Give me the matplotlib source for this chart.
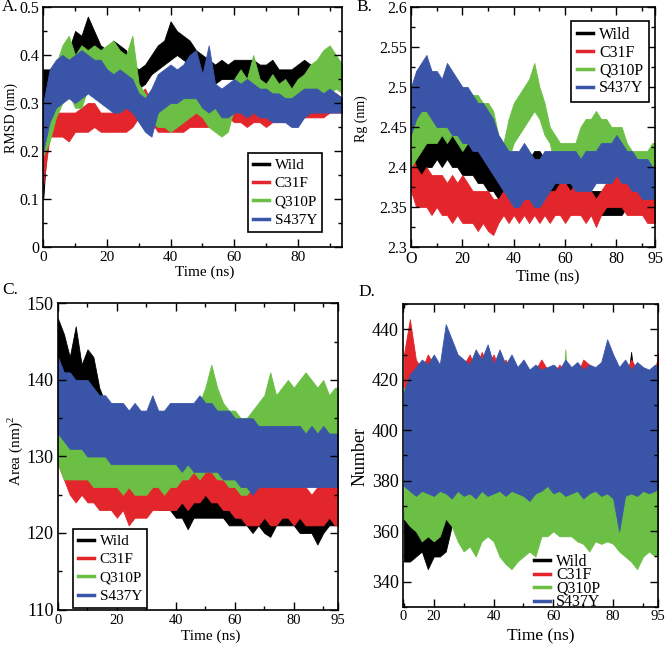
import matplotlib
matplotlib.use('Agg')
import matplotlib.pyplot as plt
from matplotlib.ticker import MultipleLocator
from matplotlib.lines import Line2D

plt.rcParams['font.family'] = ['Liberation Serif', 'DejaVu Serif']
plt.rcParams['mathtext.fontset'] = 'custom'
plt.rcParams['mathtext.rm'] = 'Liberation Serif'

labels = ['Wild', 'C31F', 'Q310P', 'S437Y']
colors = ['#000000', '#e3262b', '#6cbf45', '#3a55a8']

# each trajectory is given as its lower / upper envelope read every 2 ns
time_abc = list(range(0, 97, 2))
time_d = list(range(10, 97, 2))

# ---------------- A: RMSD (nm) ----------------
rmsd_wild_lo = [0.10, 0.30, 0.32, 0.33, 0.34, 0.35, 0.36, 0.38, 0.38, 0.36, 0.36, 0.37, 0.36, 0.36, 0.34, 0.33,
                0.34, 0.36, 0.37, 0.38, 0.39, 0.40, 0.39, 0.38, 0.37, 0.36, 0.35, 0.34, 0.35, 0.35, 0.35, 0.35,
                0.34, 0.35, 0.35, 0.34, 0.35, 0.34, 0.34, 0.33, 0.33, 0.35, 0.35, 0.34, 0.35, 0.34, 0.35, 0.35, 0.35]
rmsd_wild_hi = [0.37, 0.37, 0.38, 0.39, 0.41, 0.45, 0.44, 0.48, 0.45, 0.42, 0.41, 0.43, 0.42, 0.41, 0.38, 0.37,
                0.38, 0.40, 0.42, 0.43, 0.47, 0.45, 0.44, 0.43, 0.41, 0.40, 0.39, 0.38, 0.39, 0.38, 0.39, 0.39,
                0.39, 0.39, 0.38, 0.38, 0.39, 0.37, 0.37, 0.37, 0.38, 0.39, 0.38, 0.38, 0.37, 0.38, 0.38, 0.37, 0.37]
rmsd_c31f_lo = [0.13, 0.23, 0.23, 0.23, 0.22, 0.24, 0.24, 0.24, 0.25, 0.24, 0.24, 0.24, 0.24, 0.24, 0.25, 0.27,
                0.28, 0.26, 0.24, 0.24, 0.24, 0.24, 0.24, 0.25, 0.25, 0.25, 0.25, 0.26, 0.27, 0.27, 0.26, 0.26,
                0.25, 0.26, 0.26, 0.25, 0.26, 0.26, 0.26, 0.26, 0.27, 0.27, 0.27, 0.27, 0.27, 0.28, 0.28, 0.28, 0.28]
rmsd_c31f_hi = [0.20, 0.28, 0.28, 0.28, 0.28, 0.28, 0.29, 0.30, 0.30, 0.28, 0.28, 0.28, 0.28, 0.31, 0.29, 0.32,
                0.33, 0.30, 0.28, 0.27, 0.28, 0.27, 0.28, 0.27, 0.28, 0.28, 0.27, 0.30, 0.30, 0.29, 0.29, 0.28,
                0.28, 0.28, 0.28, 0.28, 0.29, 0.28, 0.29, 0.29, 0.32, 0.30, 0.30, 0.30, 0.31, 0.31, 0.32, 0.31, 0.31]
rmsd_q310p_lo = [0.19, 0.22, 0.27, 0.30, 0.32, 0.29, 0.29, 0.33, 0.33, 0.33, 0.32, 0.33, 0.33, 0.32, 0.34, 0.29,
                 0.27, 0.26, 0.25, 0.25, 0.24, 0.25, 0.26, 0.27, 0.28, 0.27, 0.25, 0.24, 0.23, 0.24, 0.29, 0.29,
                 0.28, 0.29, 0.30, 0.28, 0.29, 0.28, 0.28, 0.27, 0.28, 0.29, 0.29, 0.30, 0.31, 0.32, 0.33, 0.32, 0.32]
rmsd_q310p_hi = [0.25, 0.34, 0.38, 0.42, 0.44, 0.40, 0.42, 0.41, 0.42, 0.41, 0.42, 0.43, 0.41, 0.40, 0.44, 0.34,
                 0.32, 0.30, 0.30, 0.29, 0.30, 0.30, 0.31, 0.33, 0.35, 0.30, 0.29, 0.29, 0.28, 0.33, 0.35, 0.37,
                 0.35, 0.40, 0.35, 0.34, 0.36, 0.34, 0.35, 0.33, 0.35, 0.36, 0.38, 0.39, 0.41, 0.42, 0.40, 0.38, 0.38]
rmsd_s437y_lo = [0.20, 0.26, 0.29, 0.30, 0.31, 0.30, 0.31, 0.32, 0.31, 0.30, 0.29, 0.28, 0.28, 0.29, 0.28, 0.26,
                 0.24, 0.23, 0.28, 0.29, 0.30, 0.30, 0.31, 0.31, 0.31, 0.29, 0.28, 0.29, 0.27, 0.27, 0.28, 0.28,
                 0.27, 0.28, 0.27, 0.27, 0.26, 0.26, 0.26, 0.25, 0.25, 0.27, 0.28, 0.28, 0.28, 0.28, 0.28, 0.28, 0.28]
rmsd_s437y_hi = [0.30, 0.37, 0.39, 0.40, 0.39, 0.40, 0.41, 0.40, 0.39, 0.39, 0.37, 0.36, 0.37, 0.36, 0.35, 0.32,
                 0.31, 0.33, 0.36, 0.37, 0.38, 0.37, 0.38, 0.40, 0.41, 0.36, 0.42, 0.34, 0.33, 0.34, 0.35, 0.34,
                 0.35, 0.34, 0.33, 0.33, 0.32, 0.32, 0.31, 0.31, 0.32, 0.33, 0.33, 0.33, 0.32, 0.33, 0.32, 0.31, 0.31]

# ---------------- B: Rg (nm) ----------------
rg_wild_lo = [2.40, 2.39, 2.38, 2.40, 2.40, 2.41, 2.40, 2.41, 2.40, 2.40, 2.39, 2.39, 2.39, 2.38, 2.38, 2.37,
              2.37, 2.36, 2.37, 2.37, 2.37, 2.37, 2.37, 2.37, 2.38, 2.38, 2.37, 2.36, 2.35, 2.35, 2.35, 2.34,
              2.35, 2.34, 2.34, 2.34, 2.34, 2.34, 2.34, 2.34, 2.34, 2.34, 2.35, 2.35, 2.35, 2.34, 2.35, 2.34, 2.34]
rg_wild_hi = [2.42, 2.42, 2.43, 2.46, 2.45, 2.45, 2.44, 2.45, 2.44, 2.44, 2.44, 2.43, 2.43, 2.42, 2.42, 2.41,
              2.40, 2.39, 2.40, 2.40, 2.40, 2.40, 2.40, 2.41, 2.42, 2.42, 2.41, 2.39, 2.38, 2.38, 2.38, 2.38,
              2.38, 2.37, 2.37, 2.37, 2.37, 2.37, 2.36, 2.36, 2.37, 2.37, 2.37, 2.37, 2.37, 2.37, 2.36, 2.36, 2.36]
rg_c31f_lo = [2.37, 2.35, 2.35, 2.35, 2.34, 2.35, 2.34, 2.34, 2.33, 2.34, 2.33, 2.33, 2.33, 2.32, 2.33, 2.32,
              2.315, 2.33, 2.34, 2.33, 2.34, 2.33, 2.34, 2.33, 2.34, 2.33, 2.34, 2.33, 2.34, 2.34, 2.33, 2.34,
              2.34, 2.34, 2.33, 2.34, 2.325, 2.34, 2.35, 2.35, 2.35, 2.35, 2.34, 2.34, 2.34, 2.34, 2.33, 2.33, 2.33]
rg_c31f_hi = [2.42, 2.40, 2.39, 2.40, 2.39, 2.39, 2.39, 2.38, 2.39, 2.38, 2.39, 2.38, 2.37, 2.37, 2.37, 2.37,
              2.36, 2.36, 2.37, 2.37, 2.37, 2.36, 2.37, 2.37, 2.36, 2.37, 2.36, 2.37, 2.37, 2.38, 2.38, 2.37,
              2.38, 2.37, 2.37, 2.37, 2.36, 2.37, 2.38, 2.38, 2.39, 2.38, 2.39, 2.37, 2.37, 2.36, 2.36, 2.36, 2.36]
rg_q310p_lo = [2.40, 2.41, 2.42, 2.43, 2.43, 2.43, 2.44, 2.43, 2.44, 2.43, 2.42, 2.43, 2.43, 2.44, 2.43, 2.42,
               2.42, 2.41, 2.40, 2.41, 2.43, 2.44, 2.45, 2.46, 2.47, 2.46, 2.44, 2.43, 2.40, 2.40, 2.39, 2.39,
               2.40, 2.40, 2.41, 2.42, 2.42, 2.42, 2.41, 2.41, 2.41, 2.40, 2.40, 2.39, 2.39, 2.38, 2.39, 2.38, 2.38]
rg_q310p_hi = [2.46, 2.47, 2.48, 2.48, 2.48, 2.48, 2.48, 2.50, 2.49, 2.48, 2.48, 2.48, 2.49, 2.49, 2.48, 2.48,
               2.47, 2.44, 2.43, 2.46, 2.48, 2.49, 2.50, 2.51, 2.53, 2.50, 2.48, 2.45, 2.44, 2.43, 2.43, 2.43,
               2.43, 2.45, 2.46, 2.46, 2.47, 2.46, 2.46, 2.45, 2.45, 2.45, 2.43, 2.42, 2.42, 2.42, 2.42, 2.43, 2.43]
rg_s437y_lo = [2.44, 2.46, 2.47, 2.47, 2.46, 2.45, 2.45, 2.45, 2.44, 2.44, 2.43, 2.43, 2.42, 2.42, 2.41, 2.40,
               2.39, 2.38, 2.37, 2.36, 2.35, 2.35, 2.36, 2.36, 2.35, 2.35, 2.36, 2.37, 2.38, 2.38, 2.38, 2.38,
               2.37, 2.37, 2.37, 2.37, 2.38, 2.38, 2.38, 2.38, 2.39, 2.38, 2.38, 2.37, 2.37, 2.36, 2.36, 2.36, 2.36]
rg_s437y_hi = [2.50, 2.52, 2.53, 2.54, 2.52, 2.52, 2.51, 2.53, 2.52, 2.51, 2.50, 2.50, 2.49, 2.48, 2.48, 2.47,
               2.46, 2.44, 2.43, 2.42, 2.42, 2.42, 2.43, 2.42, 2.41, 2.41, 2.42, 2.42, 2.42, 2.42, 2.42, 2.42,
               2.42, 2.41, 2.42, 2.42, 2.42, 2.43, 2.43, 2.43, 2.44, 2.43, 2.42, 2.42, 2.41, 2.41, 2.41, 2.40, 2.40]

# ---------------- C: Area (nm^2) ----------------
area_wild_lo = [141, 139, 137, 138, 138, 138, 137, 135, 132, 130, 128, 127, 126, 125, 125, 124,
                124, 123, 123, 123, 122, 122, 120.5, 122, 122, 122, 122, 122, 122, 121, 121, 121,
                121, 120, 121, 120, 119.5, 121, 121, 121, 121, 120, 120, 120, 118.5, 120, 121, 121, 121]
area_wild_hi = [148, 146, 143, 147, 142, 144, 143, 139, 137, 136, 134, 133, 132, 131, 130, 129,
                128, 127, 126, 126, 127, 126, 126, 126, 126, 127, 126, 126, 126, 125, 125, 125,
                124, 124, 124, 124, 124, 124, 125, 125, 126, 124, 124, 124, 123, 123, 124, 124, 124]
area_c31f_lo = [129, 127, 125, 124, 125, 124, 124, 123, 123, 123, 122, 123, 121, 122, 122, 122,
                123, 123, 123, 123, 123, 124, 123, 124, 124, 125, 124, 124, 123, 123, 122, 122,
                121, 121, 121, 122, 121, 121, 122, 122, 121, 122, 121, 121, 121, 121, 122, 121, 121]
area_c31f_hi = [133, 132, 131, 130, 129, 130, 129, 130, 129, 128, 128, 128, 127, 128, 127, 127,
                127, 127, 126, 127, 127, 127, 128, 128, 129, 131, 129, 128, 128, 127, 127, 127,
                127, 126, 127, 127, 126, 126, 126, 126, 126, 126, 126, 125, 126, 126, 126, 126, 126]
area_q310p_lo = [129, 127, 127, 127, 127, 127, 126, 126, 126, 126, 126, 125, 126, 125, 125, 125,
                 126, 126, 125, 126, 126, 127, 127, 128, 127, 128, 128, 127, 127, 126, 126, 125,
                 125, 126, 127, 127, 127, 128, 128, 128, 129, 129, 130, 129, 130, 129, 130, 130, 130]
area_q310p_hi = [135, 133, 132, 132, 133, 133, 132, 132, 131, 131, 132, 131, 131, 131, 130, 131,
                 131, 132, 131, 132, 133, 134, 135, 136, 137, 139, 142, 139, 137, 136, 136, 135,
                 135, 136, 137, 138, 141, 138, 139, 140, 139, 140, 141, 140, 139, 140, 138, 139, 139]
area_s437y_lo = [133, 132, 131, 131, 131, 130, 130, 130, 130, 129, 129, 129, 129, 129, 129, 129,
                 129, 129, 129, 129, 129, 128, 129, 128, 128, 128, 128, 128, 127, 127, 127, 126,
                 126, 125, 126, 126, 126, 126, 126, 126, 126, 126, 126, 126, 126, 126, 126, 126, 126]
area_s437y_hi = [143, 141, 141, 140, 140, 140, 139, 138, 138, 137, 137, 137, 136, 137, 136, 136,
                 138, 136, 136, 137, 137, 137, 137, 137, 138, 137, 137, 136, 136, 136, 135, 135,
                 135, 135, 134, 134, 134, 134, 134, 134, 134, 134, 133, 134, 133, 134, 133, 133, 133]

# ---------------- D: Number (t = 10..96) ----------------
num_wild_lo = [348, 348, 350, 352, 345, 350, 350, 352, 362, 365, 364, 366, 365, 367, 365, 366,
               364, 366, 365, 366, 365, 366, 364, 362, 366, 365, 366, 365, 366, 365, 366, 365,
               366, 365, 366, 365, 366, 365, 366, 365, 366, 366, 365, 365]
num_wild_hi = [368, 366, 370, 366, 368, 372, 370, 372, 405, 410, 410, 408, 411, 409, 412, 408,
               410, 411, 409, 410, 408, 410, 411, 409, 410, 417, 411, 409, 410, 412, 409, 410,
               411, 409, 410, 412, 409, 410, 431, 411, 410, 409, 410, 410]
num_c31f_lo = [413, 412, 400, 385, 382, 384, 383, 380, 384, 383, 382, 384, 382, 383, 382, 384,
               383, 382, 384, 383, 382, 384, 383, 382, 384, 383, 382, 384, 383, 382, 384, 383,
               382, 384, 383, 382, 384, 383, 382, 384, 383, 382, 384, 384]
num_c31f_hi = [430, 444, 428, 424, 430, 426, 423, 424, 432, 426, 426, 430, 424, 431, 426, 430,
               424, 428, 423, 424, 426, 422, 424, 428, 424, 422, 426, 423, 425, 422, 428, 426,
               424, 422, 426, 423, 424, 422, 428, 424, 423, 422, 424, 435]
num_q310p_lo = [365, 362, 360, 356, 358, 356, 358, 365, 362, 356, 352, 354, 350, 356, 358, 356,
                350, 347, 345, 348, 350, 352, 350, 358, 358, 360, 358, 358, 358, 356, 355, 352,
                356, 355, 356, 355, 352, 350, 348, 345, 350, 352, 350, 352]
num_q310p_hi = [417, 380, 382, 385, 384, 386, 388, 388, 388, 385, 384, 382, 383, 384, 385, 384,
                383, 382, 380, 382, 380, 382, 383, 380, 382, 380, 384, 432, 386, 384, 385, 383,
                382, 384, 385, 384, 380, 378, 376, 375, 376, 378, 377, 378]
num_s437y_lo = [378, 376, 374, 376, 375, 374, 376, 375, 373, 376, 374, 375, 373, 376, 374, 375,
                376, 374, 376, 375, 374, 372, 375, 376, 378, 375, 376, 374, 375, 376, 373, 375,
                376, 374, 375, 373, 360, 374, 375, 374, 376, 375, 376, 378]
num_s437y_hi = [415, 422, 425, 428, 426, 430, 426, 442, 436, 430, 428, 426, 432, 428, 434, 426,
                432, 426, 430, 425, 428, 424, 426, 424, 425, 426, 424, 428, 425, 427, 424, 426,
                425, 427, 436, 430, 425, 428, 424, 427, 425, 424, 426, 424]

W, H = 666, 646
fig = plt.figure(figsize=(W / 100, H / 100), dpi=100)

axA = fig.add_axes([0.065, 0.6177, 0.449, 0.3715])
axB = fig.add_axes([0.6171, 0.6177, 0.3664, 0.3715])
axC = fig.add_axes([0.0871, 0.0565, 0.4204, 0.4737])
axD = fig.add_axes([0.6051, 0.0604, 0.3829, 0.469])

panels = [
    (axA, time_abc, [(rmsd_wild_lo, rmsd_wild_hi), (rmsd_c31f_lo, rmsd_c31f_hi),
                     (rmsd_q310p_lo, rmsd_q310p_hi), (rmsd_s437y_lo, rmsd_s437y_hi)]),
    (axB, time_abc, [(rg_wild_lo, rg_wild_hi), (rg_c31f_lo, rg_c31f_hi),
                     (rg_q310p_lo, rg_q310p_hi), (rg_s437y_lo, rg_s437y_hi)]),
    (axC, time_abc, [(area_wild_lo, area_wild_hi), (area_c31f_lo, area_c31f_hi),
                     (area_q310p_lo, area_q310p_hi), (area_s437y_lo, area_s437y_hi)]),
    (axD, time_d, [(num_wild_lo, num_wild_hi), (num_c31f_lo, num_c31f_hi),
                   (num_q310p_lo, num_q310p_hi), (num_s437y_lo, num_s437y_hi)]),
]
for ax, t, series in panels:
    for (lo, hi), c in zip(series, colors):
        n = min(len(t), len(lo), len(hi))
        ax.fill_between(t[:n], lo[:n], hi[:n], facecolor=c, edgecolor=c, lw=0.6)
    for s in ax.spines.values():
        s.set_linewidth(1.2)
        s.set_zorder(5)
    ax.tick_params(which='both', direction='in', top=True, right=True, width=1.0)
    ax.tick_params(which='major', length=6, pad=3)
    ax.tick_params(which='minor', length=3)

# A
axA.set_xlim(0, 94)
axA.set_ylim(0, 0.5)
axA.xaxis.set_major_locator(MultipleLocator(20))
axA.xaxis.set_minor_locator(MultipleLocator(10))
axA.set_yticks([0, 0.1, 0.2, 0.3, 0.4, 0.5])
axA.set_yticklabels(['0', '0.1', '0.2', '0.3', '0.4', '0.5'])
axA.yaxis.set_minor_locator(MultipleLocator(0.05))
axA.tick_params(axis='x', labelsize=11)
axA.tick_params(axis='y', labelsize=11.5)

# B
axB.set_xlim(0, 95)
axB.set_ylim(2.3, 2.6)
axB.set_xticks([0, 20, 40, 60, 80, 95])
axB.set_xticklabels(['O', '20', '40', '60', '80', '95'])
axB.xaxis.set_minor_locator(MultipleLocator(10))
axB.set_yticks([2.3, 2.35, 2.4, 2.45, 2.5, 2.55, 2.6])
axB.set_yticklabels(['2.3', '2.35', '2.4', '2.45', '2.5', '2.55', '2.6'])
axB.yaxis.set_minor_locator(MultipleLocator(0.025))
axB.tick_params(axis='x', labelsize=11.5)
axB.tick_params(axis='y', labelsize=11.5)

# C
axC.set_xlim(0, 95)
axC.set_ylim(110, 150)
axC.set_xticks([0, 20, 40, 60, 80, 95])
axC.xaxis.set_minor_locator(MultipleLocator(10))
axC.yaxis.set_major_locator(MultipleLocator(10))
axC.yaxis.set_minor_locator(MultipleLocator(5))
axC.tick_params(axis='x', labelsize=10.5)
axC.tick_params(axis='y', labelsize=13)

# D
axD.set_xlim(9.7, 95)
axD.set_ylim(330, 450)
axD.set_xticks([9.7, 20, 40, 60, 80, 95])
axD.set_xticklabels(['0', '20', '40', '60', '80', '95'])
axD.xaxis.set_minor_locator(MultipleLocator(10))
axD.set_yticks([340, 360, 380, 400, 420, 440])
axD.yaxis.set_minor_locator(MultipleLocator(10))
axD.tick_params(axis='x', labelsize=10.5, pad=2)
axD.tick_params(axis='y', labelsize=13)


def ftext(x, y, s, fs, rot=0):
    fig.text(x / W, 1 - y / H, s, fontsize=fs, rotation=rot, ha='center', va='center')


# axis titles, placed at the reference pixel centres
ftext(205, 272, 'Time (ns)', 11)
ftext(11, 118, 'RMSD (nm)', 10, 90)
ftext(548, 277, 'Time (ns)', 11.8)
ftext(361, 119, 'Rg (nm)', 10, 90)
ftext(211, 636, 'Time (ns)', 11)
ftext(15, 451, 'Area (nm)$^2$', 11, 90)
ftext(541, 636, 'Time (ns)', 12.5)
ftext(360, 456, 'Number', 13, 90)

handles = [Line2D([], [], color=c, lw=2.5) for c in colors]


def add_legend(ax, anchor, fs, spacing, frame=True):
    leg = ax.legend(handles, labels, loc='upper left', bbox_to_anchor=anchor,
                    bbox_transform=fig.transFigure, fontsize=fs, frameon=frame,
                    fancybox=False, edgecolor='black', framealpha=1,
                    handlelength=1.0, handletextpad=0.4, labelspacing=spacing,
                    borderpad=0.35, borderaxespad=0)
    leg.get_frame().set_linewidth(1.2)
    leg.set_zorder(6)
    return leg


add_legend(axA, (248 / W, 1 - 153 / H), 11, 0.3)
add_legend(axB, (571 / W, 1 - 21 / H), 11.5, 0.12)
add_legend(axC, (73 / W, 1 - 529 / H), 11, 0.3)
add_legend(axD, (528 / W, 1 - 548 / H), 11.5, -0.15, frame=False)

fig.text(2 / W, 1 - 7 / H, 'A.', fontsize=12.5, va='center', ha='left')
fig.text(356 / W, 1 - 7 / H, 'B.', fontsize=12.5, va='center', ha='left')
fig.text(2 / W, 1 - 290 / H, 'C.', fontsize=12.5, va='center', ha='left')
fig.text(358 / W, 1 - 292 / H, 'D.', fontsize=12.5, va='center', ha='left')

fig.savefig('out.png', dpi=100)
